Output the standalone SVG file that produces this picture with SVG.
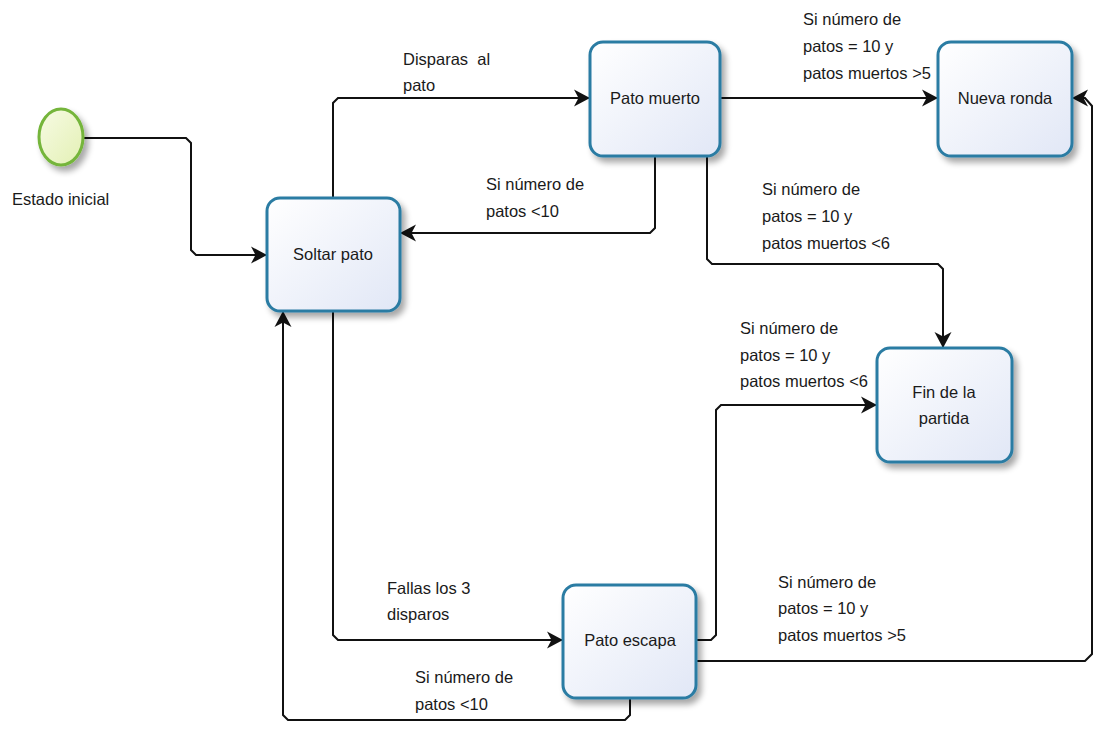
<svg xmlns="http://www.w3.org/2000/svg" width="1094" height="735" viewBox="0 0 1094 735">
<defs>
<linearGradient id="nodeFill" x1="0" y1="0" x2="1" y2="1">
<stop offset="0" stop-color="#ffffff"/>
<stop offset="1" stop-color="#e1e7f6"/>
</linearGradient>
<linearGradient id="startFill" x1="0" y1="0" x2="1" y2="1">
<stop offset="0" stop-color="#f7fbe4"/>
<stop offset="1" stop-color="#e3f0b4"/>
</linearGradient>
<filter id="shadow" x="-20%" y="-20%" width="150%" height="150%">
<feGaussianBlur in="SourceAlpha" stdDeviation="3"/>
<feOffset dx="4" dy="5" result="b"/>
<feComponentTransfer><feFuncA type="linear" slope="0.35"/></feComponentTransfer>
<feMerge><feMergeNode/><feMergeNode in="SourceGraphic"/></feMerge>
</filter>
<marker id="arr" viewBox="0 0 16 18" refX="16" refY="9" markerWidth="16" markerHeight="18" orient="auto" markerUnits="userSpaceOnUse">
<path d="M0,0.5 L16,9 L0,17.5 L4.5,9 Z" fill="#111"/>
</marker>
</defs>
<style>
.node{fill:url(#nodeFill);stroke:#2a7ba3;stroke-width:3;filter:url(#shadow)}
.start{fill:url(#startFill);stroke:#74b53a;stroke-width:3;filter:url(#shadow)}
.t{font-family:"Liberation Sans",Arial,sans-serif;font-size:16.5px;fill:#1a1a1a;white-space:pre}
.c{text-anchor:middle}
.edge{fill:none;stroke:#111;stroke-width:2;marker-end:url(#arr)}
</style>
<rect width="1094" height="735" fill="#ffffff"/>

<g id="connectors">
<path class="edge" d="M83,138 H186 L191,143 V250 L196,255 H267"/>
<path class="edge" d="M333,198 V103 L338,98 H590"/>
<path class="edge" d="M655,156 V228 L650,233 H400"/>
<path class="edge" d="M720,98 H938"/>
<path class="edge" d="M707,156 V259 L712,264 H938 L943,269 V348"/>
<path class="edge" d="M333,311 V635 L338,640 H563"/>
<path class="edge" d="M630,698 V715 L625,720 H288 L283,715 V311"/>
<path class="edge" d="M697,640 H711 L716,635 V410 L721,405 H877"/>
<path class="edge" d="M697,661 H1085 L1092,654 V106 L1085,98 H1072"/>
<text class="t" x="403" y="65">Disparas  al</text>
<text class="t" x="403" y="91">pato</text>
<text class="t" x="803" y="25">Si número de</text>
<text class="t" x="803" y="52">patos = 10 y</text>
<text class="t" x="803" y="79">patos muertos &gt;5</text>
<text class="t" x="486" y="190">Si número de</text>
<text class="t" x="486" y="217">patos &lt;10</text>
<text class="t" x="762" y="195">Si número de</text>
<text class="t" x="762" y="222">patos = 10 y</text>
<text class="t" x="762" y="249">patos muertos &lt;6</text>
<text class="t" x="740" y="334">Si número de</text>
<text class="t" x="740" y="361">patos = 10 y</text>
<text class="t" x="740" y="387">patos muertos &lt;6</text>
<text class="t" x="387" y="594">Fallas los 3</text>
<text class="t" x="387" y="620">disparos</text>
<text class="t" x="415" y="683">Si número de</text>
<text class="t" x="415" y="710">patos &lt;10</text>
<text class="t" x="778" y="588">Si número de</text>
<text class="t" x="778" y="614">patos = 10 y</text>
<text class="t" x="778" y="641">patos muertos &gt;5</text>
</g>

<g id="estado-inicial">
<ellipse class="start" cx="61" cy="137" rx="22" ry="28"/>
<text class="t" x="12" y="205">Estado inicial</text>
</g>

<g id="soltar-pato">
<rect class="node" x="267" y="198" width="133" height="113" rx="13"/>
<text class="t c" x="333" y="260">Soltar pato</text>
</g>

<g id="pato-muerto">
<rect class="node" x="590" y="42" width="130" height="114" rx="13"/>
<text class="t c" x="655" y="104">Pato muerto</text>
</g>

<g id="nueva-ronda">
<rect class="node" x="938" y="42" width="134" height="114" rx="13"/>
<text class="t c" x="1005" y="104">Nueva ronda</text>
</g>

<g id="fin-partida">
<rect class="node" x="877" y="348" width="135" height="114" rx="13"/>
<text class="t c" x="944" y="398">Fin de la</text>
<text class="t c" x="944" y="424">partida</text>
</g>

<g id="pato-escapa">
<rect class="node" x="563" y="585" width="133" height="113" rx="13"/>
<text class="t c" x="630" y="646">Pato escapa</text>
</g>
</svg>
